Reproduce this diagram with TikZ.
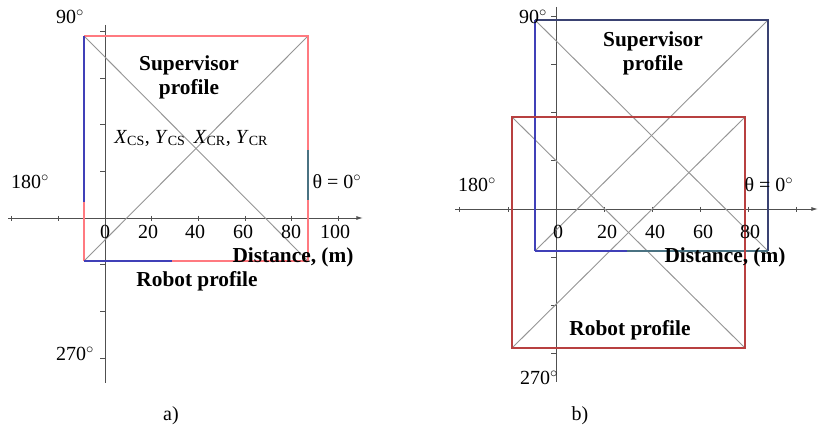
\documentclass[tikz,border=0pt]{standalone}
\usepackage{fontspec}
\setmainfont{Liberation Serif}
\usetikzlibrary{arrows.meta, calc}

\definecolor{lightred}{HTML}{FF7A80}
\definecolor{darkred}{HTML}{B84040}
\definecolor{profblue}{HTML}{4040B8}
\definecolor{navy}{HTML}{3A4272}
\definecolor{teal}{HTML}{4A7282}
\definecolor{diaggray}{HTML}{959595}
\definecolor{axisgray}{HTML}{505050}

\tikzset{
  axis/.style={draw=axisgray, line width=0.7pt},
  tick/.style={draw=axisgray, line width=0.6pt},
  diag/.style={draw=diaggray, line width=0.7pt},
  prof/.style={line width=1.3pt},
  lbl/.style={font=\fontsize{15}{17}\selectfont, inner sep=0pt},
  blbl/.style={font=\fontsize{16}{18}\selectfont\bfseries, inner sep=0pt, align=center}
}

\begin{document}
\begin{tikzpicture}[x=0.75pt, y=-0.75pt]

    % Fix the page to the reference size
    \useasboundingbox (0,0) rectangle (820,427);

    %%%%%%%%%%%%%%%% panel a) %%%%%%%%%%%%%%%%

    % Origin of the axes
    \coordinate (Oa) at (105,218);

    % Axes
    \draw [axis, -{Latex[length=5pt, width=3pt]}] (8,218) coordinate (Wa) -- (363,218) coordinate (Ea);
    \draw [axis] (105,25) coordinate (Na) -- (105,383) coordinate (Sa);

    % Ticks, every 20 m
    \foreach \i in {-2,...,5}
        \draw [tick] ($(Oa)+(\i*46.67,-2)$) -- ++(0,5);
    \foreach \j in {-3,...,4}
        \draw [tick] ($(Oa)+(-5,-\j*46.67)$) -- ++(5,0);

    % Corners of the two profiles (they coincide here)
    \coordinate (A1) at (84,36);
    \coordinate (A2) at (308,36);
    \coordinate (A3) at (308,261);
    \coordinate (A4) at (84,261);

    % Diagonals
    \draw [diag] (A1) -- (A3);
    \draw [diag] (A4) -- (A2);

    % Profile edges
    \draw [prof, lightred] (A1) -- (A2) -- (A3);
    \draw [prof, profblue] (A1) -- (84,202) coordinate (A5);
    \draw [prof, lightred] (A5) -- (A4);
    \draw [prof, profblue] (A4) -- (172,261) coordinate (A6);
    \draw [prof, lightred] (A6) -- (A3);
    \draw [prof, teal] (308,150) -- (308,200);

    % Labels
    \node [lbl] (a90) at (70,17) {90$^{\circ}$};
    \node [lbl] (a180) at (30,182) {180$^{\circ}$};
    \node [lbl] (a0) at (337,182) {θ = 0$^{\circ}$};
    \node [lbl] (a270) at (75,354) {270$^{\circ}$};
    \node [blbl] (asup) at (189,77) {Supervisor\\profile};
    \node [lbl] (acs) at (150,138) {\textit{X}\textsubscript{CS}, \textit{Y}\textsubscript{CS}};
    \node [lbl] (acr) at (231,138) {\textit{X}\textsubscript{CR}, \textit{Y}\textsubscript{CR}};
    \foreach \x/\t in {105/0, 148/20, 195/40, 243/60, 291/80, 335/100}
        \node [lbl] at (\x,232) {\t};
    \node [blbl] (adist) at (293,257) {Distance, (m)};
    \node [blbl] (arob) at (197,281) {Robot profile};
    \node [lbl] (acap) at (171,416) {a)};

    %%%%%%%%%%%%%%%% panel b) %%%%%%%%%%%%%%%%

    % Origin of the axes
    \coordinate (Ob) at (556,209);

    % Axes
    \draw [axis, -{Latex[length=5pt, width=3pt]}] (455,209) coordinate (Wb) -- (818,209) coordinate (Eb);
    \draw [axis] (556,7) coordinate (Nb) -- (556,382) coordinate (Sb);

    % Ticks, every 20 m
    \foreach \i in {-2,...,5}
        \draw [tick] ($(Ob)+(\i*48.1,-2)$) -- ++(0,5);
    \foreach \j in {-3,...,4}
        \draw [tick] ($(Ob)+(-5,-\j*48.1)$) -- ++(5,0);

    % Supervisor profile corners
    \coordinate (S1) at (535,20);
    \coordinate (S2) at (768,20);
    \coordinate (S3) at (768,251);
    \coordinate (S4) at (535,251);

    % Robot profile corners
    \coordinate (R1) at (512,117);
    \coordinate (R2) at (745,117);
    \coordinate (R3) at (745,348);
    \coordinate (R4) at (512,348);

    % Diagonals
    \draw [diag] (S1) -- (S3);
    \draw [diag] (S4) -- (S2);
    \draw [diag] (R1) -- (R3);
    \draw [diag] (R4) -- (R2);

    % Supervisor profile edges
    \draw [prof, profblue] (S4) -- (S1);
    \draw [prof, navy] (S1) -- (S2) -- (S3);
    \draw [prof, profblue] (S4) -- (627,251) coordinate (S5);
    \draw [prof, teal] (S5) -- (S3);

    % Robot profile edges
    \draw [prof, darkred] (R1) -- (R2) -- (R3) -- (R4) -- cycle;

    % Labels
    \node [lbl] (b90) at (533,17) {90$^{\circ}$};
    \node [lbl] (b180) at (477,185) {180$^{\circ}$};
    \node [lbl] (b0) at (769,185) {θ = 0$^{\circ}$};
    \node [lbl] (b270) at (539,378) {270$^{\circ}$};
    \node [blbl] (bsup) at (653,53) {Supervisor\\profile};
    \foreach \x/\t in {558/0, 607/20, 655/40, 703/60, 750/80}
        \node [lbl] at (\x,232) {\t};
    \node [blbl] (bdist) at (725,257) {Distance, (m)};
    \node [blbl] (brob) at (630,330) {Robot profile};
    \node [lbl] (bcap) at (580,416) {b)};

\end{tikzpicture}
\end{document}
